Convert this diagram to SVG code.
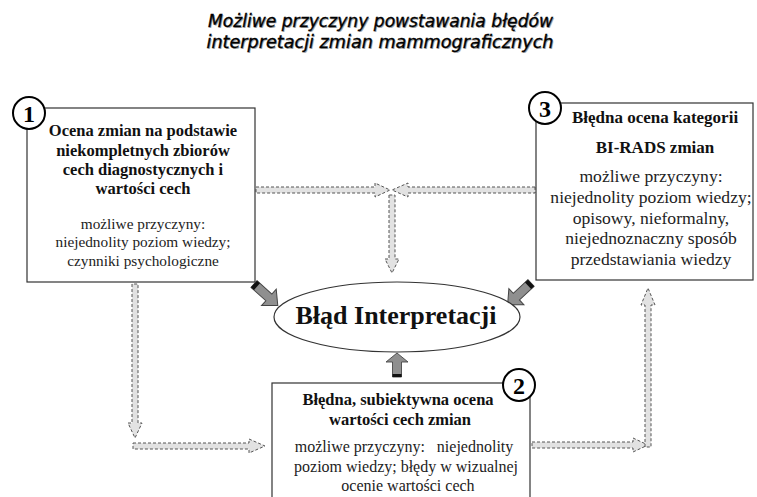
<svg xmlns="http://www.w3.org/2000/svg" width="757" height="497" viewBox="0 0 757 497">
<style>
.title{font-family:"DejaVu Sans","Liberation Sans",sans-serif;font-style:italic;font-size:17px;text-anchor:middle}
.tfg{fill:#000;stroke:#000;stroke-width:0.35}
.tsh{fill:#aaa}
.box{fill:#fff;stroke:#333;stroke-width:1.2}
.b{font-family:"Liberation Serif","Times New Roman",serif;font-weight:bold;fill:#111;text-anchor:middle}
.r{font-family:"Liberation Serif","Times New Roman",serif;fill:#222;text-anchor:middle}
.num{fill:#fff;stroke:#000;stroke-width:2}
.numt{font-family:"Liberation Serif","Times New Roman",serif;font-weight:bold;font-size:24px;fill:#000;text-anchor:middle}
.dash{fill:#e2e2e2;stroke:#555;stroke-width:1;stroke-dasharray:3 2}
.blk{fill:#8f8f8f;stroke:#444;stroke-width:1}
</style>
<defs>
<g id="bigArrow">
<polygon class="blk" points="0,-4.5 20,-4.5 20,-11 32,0 20,11 20,4.5 0,4.5"/>
<rect x="0" y="-4.5" width="4" height="9" fill="#111"/>
</g>
</defs>
<rect width="757" height="497" fill="#fff"/>
<g id="title">
<text class="title tsh" x="381.5" y="28" textLength="345" lengthAdjust="spacingAndGlyphs">Możliwe przyczyny powstawania błędów</text>
<text class="title tfg" x="380.5" y="27" textLength="345" lengthAdjust="spacingAndGlyphs">Możliwe przyczyny powstawania błędów</text>
<text class="title tsh" x="381" y="49" textLength="347" lengthAdjust="spacingAndGlyphs">interpretacji zmian mammograficznych</text>
<text class="title tfg" x="380" y="48" textLength="347" lengthAdjust="spacingAndGlyphs">interpretacji zmian mammograficznych</text>
</g>
<g id="connectors">
<polygon class="dash" points="256,187 375,187 375,183 390,190 375,197 375,193 256,193"/>
<polygon class="dash" points="535,187 408,187 408,183 392,190 408,197 408,193 535,193"/>
<polygon class="dash" points="389,195 389,259 385,259 392,273 399,259 395,259 395,195"/>
<polygon class="dash" points="132,284 132,423 128,423 135,438 142,423 138,423 138,284"/>
<polygon class="dash" points="133,443 249,443 249,439 265,446 249,453 249,449 133,449"/>
<polygon class="dash" points="532,442 633,442 633,438 648,445 633,452 633,448 532,448"/>
<polygon class="dash" points="645,447 645,305 641,305 648,288 655,305 651,305 651,447"/>
<use href="#bigArrow" transform="translate(254,284) rotate(42)"/>
<use href="#bigArrow" transform="translate(531,283) rotate(137)"/>
<use href="#bigArrow" transform="translate(397,377) rotate(-90) scale(0.75,1)"/>
</g>
<g id="node-center">
<ellipse cx="397" cy="317" rx="123" ry="35" fill="#fff" stroke="#333" stroke-width="1.2"/>
<text class="b" x="396" y="324" font-size="26">Błąd Interpretacji</text>
</g>
<g id="node-1">
<rect class="box" x="27" y="108" width="228" height="174"/>
<circle class="num" cx="29" cy="113" r="16"/>
<text class="numt" x="29" y="121.5">1</text>
<text class="b" x="143" y="136" font-size="16.5">Ocena zmian na podstawie</text>
<text class="b" x="143" y="156" font-size="16.5">niekompletnych zbiorów</text>
<text class="b" x="143" y="175" font-size="16.5">cech diagnostycznych i</text>
<text class="b" x="143" y="194" font-size="16.5">wartości cech</text>
<text class="r" x="143" y="229" font-size="15.3">możliwe przyczyny:</text>
<text class="r" x="143" y="247" font-size="15.3">niejednolity poziom wiedzy;</text>
<text class="r" x="143" y="266" font-size="15.3">czynniki psychologiczne</text>
</g>
<g id="node-3">
<rect class="box" x="536" y="103" width="217" height="177"/>
<circle class="num" cx="545" cy="108" r="16"/>
<text class="numt" x="545" y="116.5">3</text>
<text class="b" x="655" y="123" font-size="17">Błędna ocena kategorii</text>
<text class="b" x="655" y="153" font-size="17">BI-RADS zmian</text>
<text class="r" x="651" y="182" font-size="17.6">możliwe przyczyny:</text>
<text class="r" x="651" y="203" font-size="17.6">niejednolity poziom wiedzy;</text>
<text class="r" x="651" y="224" font-size="17.6">opisowy, nieformalny,</text>
<text class="r" x="651" y="244" font-size="17.6">niejednoznaczny sposób</text>
<text class="r" x="651" y="265" font-size="17.6">przedstawiania wiedzy</text>
</g>
<g id="node-2">
<rect class="box" x="272" y="383" width="258" height="120"/>
<circle class="num" cx="519" cy="385" r="16"/>
<text class="numt" x="519" y="393.5">2</text>
<text class="b" x="398" y="405" font-size="16.5">Błędna, subiektywna ocena</text>
<text class="b" x="400" y="425" font-size="16.5">wartości cech zmian</text>
<text class="r" x="404" y="452" font-size="16" style="white-space:pre">możliwe przyczyny:   niejednolity</text>
<text class="r" x="406" y="472" font-size="16">poziom wiedzy; błędy w wizualnej</text>
<text class="r" x="408" y="491" font-size="16">ocenie wartości cech</text>
</g>
</svg>
